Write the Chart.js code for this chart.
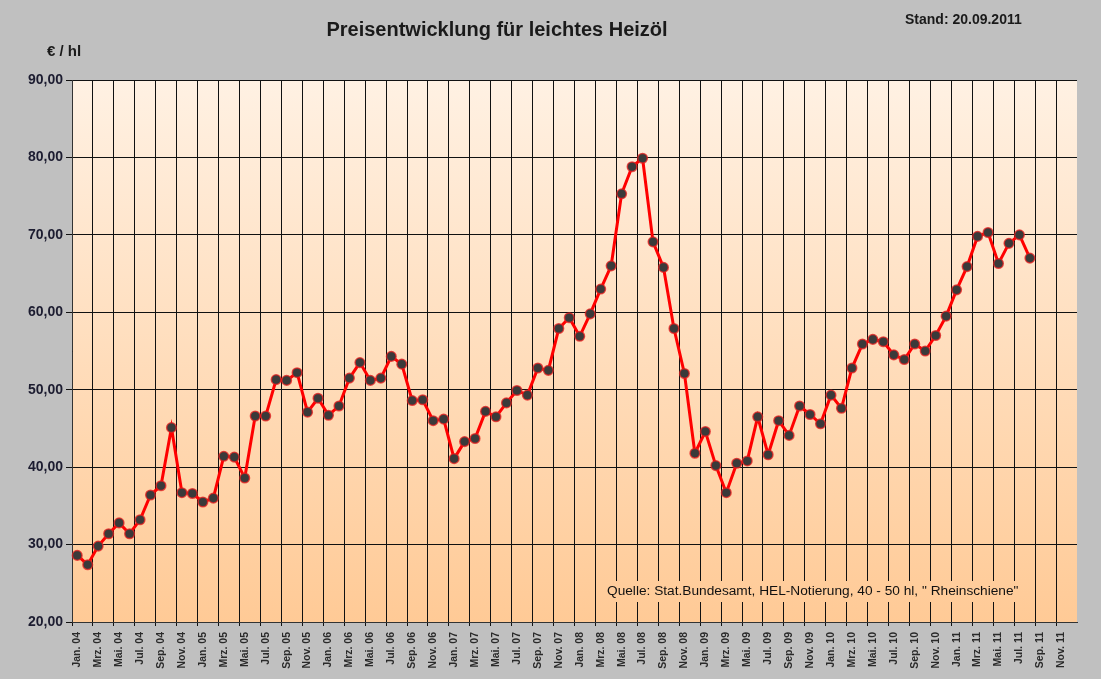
<!DOCTYPE html>
<html>
<head>
<meta charset="utf-8">
<title>Preisentwicklung für leichtes Heizöl</title>
<script src="https://cdn.jsdelivr.net/npm/chart.js@4/dist/chart.umd.min.js"></script>
<style>
    html, body { margin: 0; padding: 0; background: #c0c0c0; }
    #wrap { width: 1101px; height: 679px; position: relative; }
</style>
</head>
<body>
<div id="wrap"><canvas id="chart" width="1101" height="679"></canvas></div>
<script>
// Monthly price of light heating oil in €/hl
const years = ['04', '05', '06', '07', '08', '09', '10', '11'];
const monthNames = ['Jan.', 'Feb.', 'Mrz.', 'Apr.', 'Mai.', 'Jun.', 'Jul.', 'Aug.', 'Sep.', 'Okt.', 'Nov.', 'Dez.'];

const prices2004 = [28.6, 27.4, 29.8, 31.4, 32.8, 31.4, 33.2, 36.4, 37.6, 45.1, 36.7, 36.6];
const prices2005 = [35.5, 36.0, 41.4, 41.3, 38.6, 46.6, 46.6, 51.3, 51.2, 52.2, 47.1, 48.9];
const prices2006 = [46.7, 47.9, 51.5, 53.5, 51.2, 51.5, 54.3, 53.3, 48.6, 48.7, 46.0, 46.2];
const prices2007 = [41.1, 43.3, 43.7, 47.2, 46.5, 48.3, 49.9, 49.3, 52.8, 52.5, 57.9, 59.3];
const prices2008 = [56.9, 59.8, 63.0, 66.0, 75.3, 78.8, 79.9, 69.1, 65.8, 57.9, 52.1, 41.8];
const prices2009 = [44.6, 40.2, 36.7, 40.5, 40.8, 46.5, 41.6, 46.0, 44.1, 47.9, 46.8, 45.6];
const prices2010 = [49.3, 47.6, 52.8, 55.9, 56.5, 56.2, 54.5, 53.9, 55.9, 55.0, 57.0, 59.5];
const prices2011 = [62.9, 65.9, 69.8, 70.3, 66.3, 68.9, 70.0, 67.0];

const yTicks = [20, 30, 40, 50, 60, 70, 80, 90];

const labels = [];
years.forEach(y => monthNames.forEach(m => labels.push(`${m} ${y}`)));
const prices = [].concat(prices2004, prices2005, prices2006, prices2007,
    prices2008, prices2009, prices2010, prices2011);

const FONT = '"Liberation Sans", Arial, sans-serif';
let plotGradient = null;

function getGradient(ctx, area) {
    if (!plotGradient) {
        plotGradient = ctx.createLinearGradient(0, area.top, 0, area.bottom);
        plotGradient.addColorStop(0, '#fff1e3');
        plotGradient.addColorStop(1, '#ffca96');
    }
    return plotGradient;
}

const decorations = {
    id: 'decorations',
    beforeDraw(chart) {
        const { ctx, chartArea: a } = chart;
        ctx.save();
        ctx.fillStyle = '#c0c0c0';
        ctx.fillRect(0, 0, chart.width, chart.height);
        ctx.fillStyle = getGradient(ctx, a);
        ctx.fillRect(a.left, a.top, a.right - a.left, a.bottom - a.top);
        ctx.restore();
    },
    beforeDatasetsDraw(chart) {
        const { ctx, chartArea: a } = chart;
        // source note with a box that hides the grid behind it
        ctx.save();
        ctx.fillStyle = getGradient(ctx, a);
        ctx.fillRect(604, 581, 416, 21);
        ctx.font = `13.7px ${FONT}`;
        ctx.fillStyle = '#111';
        ctx.textAlign = 'left';
        ctx.textBaseline = 'middle';
        ctx.fillText('Quelle: Stat.Bundesamt, HEL-Notierung, 40 - 50 hl, " Rheinschiene"', 607, 591);
        ctx.restore();
    },
    afterDraw(chart) {
        const { ctx } = chart;
        ctx.save();
        ctx.fillStyle = '#1a1a1a';
        ctx.textBaseline = 'middle';
        ctx.textAlign = 'center';
        ctx.font = `bold 20px ${FONT}`;
        ctx.fillText('Preisentwicklung für leichtes Heizöl', 497, 30);
        ctx.textAlign = 'left';
        ctx.font = `bold 14px ${FONT}`;
        ctx.fillText('Stand: 20.09.2011', 905, 20);
        ctx.font = `bold 15px ${FONT}`;
        ctx.fillText('€ / hl', 47, 52);
        ctx.restore();
    }
};

new Chart(document.getElementById('chart'), {
    type: 'line',
    data: {
        labels,
        datasets: [{
            data: prices,
            borderColor: '#ff0000',
            borderWidth: 3,
            tension: 0,
            pointRadius: 4.8,
            pointBackgroundColor: '#3a3a3a',
            pointBorderColor: 'rgba(230, 30, 30, 0.75)',
            pointBorderWidth: 1.5
        }]
    },
    options: {
        responsive: false,
        animation: false,
        events: [],
        layout: { padding: { top: 80, right: 24, left: 0, bottom: 0 } },
        plugins: {
            legend: { display: false },
            tooltip: { enabled: false }
        },
        scales: {
            x: {
                type: 'category',
                offset: true,
                afterFit(scale) { scale.height = 57; },
                grid: {
                    offset: true,
                    color: (c) => (c.index % 2 === 0 ? '#111' : 'rgba(0,0,0,0)'),
                    lineWidth: 1,
                    tickLength: 4
                },
                border: { display: true, color: '#333', width: 1 },
                ticks: {
                    autoSkip: false,
                    minRotation: 90,
                    maxRotation: 90,
                    padding: 6,
                    color: '#2a2a2a',
                    font: { family: FONT, size: 10.5, weight: 'bold' },
                    callback: (v, i) => (i % 2 === 0 ? labels[i] : '')
                }
            },
            y: {
                min: yTicks[0],
                max: yTicks[yTicks.length - 1],
                afterFit(scale) { scale.width = 72; },
                afterBuildTicks(scale) { scale.ticks = yTicks.map(v => ({ value: v })); },
                grid: { color: '#111', lineWidth: 1, tickLength: 6 },
                border: { display: true, color: '#333', width: 1 },
                ticks: {
                    padding: 3,
                    color: '#1c1c30',
                    font: { family: FONT, size: 14, weight: 'bold' },
                    callback: (v) => Number(v).toFixed(2).replace('.', ',')
                }
            }
        }
    },
    plugins: [decorations]
});
</script>
</body>
</html>
